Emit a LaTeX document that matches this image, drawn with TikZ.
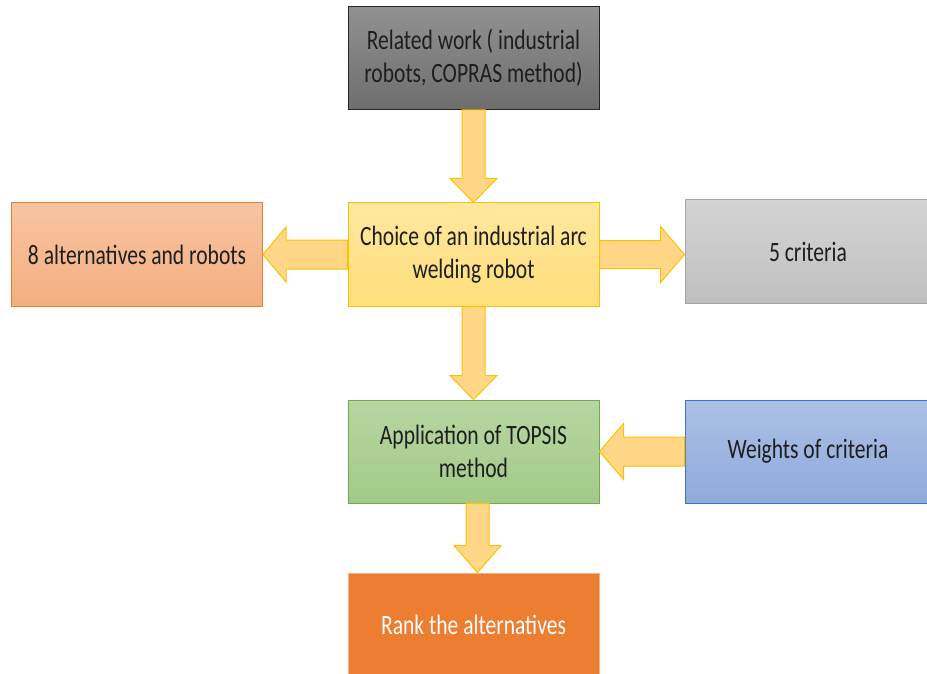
\documentclass[tikz,border=0pt]{standalone}
\usepackage{fontspec}
\setmainfont{Carlito}[FakeStretch=0.77]
\usetikzlibrary{calc}
\definecolor{myyellow}{RGB}{255,192,0}
\definecolor{myarrow}{RGB}{255,215,135}
\definecolor{myorange}{RGB}{237,125,49}
\definecolor{mygreen}{RGB}{112,173,71}
\definecolor{myblue}{RGB}{68,114,196}
\definecolor{mytext}{RGB}{30,30,30}

\begin{document}
\begin{tikzpicture}[x=1pt, y=1pt]
\tikzset{BoxStyle/.style =
    {draw, shape=rectangle, line width=1pt, minimum width=251pt, minimum height=103pt,
     inner sep=0pt, align=center, text=mytext, font=\fontsize{28}{33}\selectfont}
}
\tikzset{WideBoxStyle/.style = {BoxStyle, minimum width=246pt}}
\tikzset{ArrowStyle/.style = {draw=myyellow, fill=myarrow, line width=1pt, line join=miter}}
\useasboundingbox (0,0) rectangle (927,-674);

\node[BoxStyle, draw=black!85, top color=black!43, bottom color=black!57] (G-related) at (473.5,-58) {Related work ( industrial\\robots, COPRAS method)};
\node[BoxStyle, draw=myorange, top color=myorange!45, bottom color=myorange!62] (G-alts) at (137,-254.5) {8 alternatives and robots};
\node[BoxStyle, draw=myyellow, top color=myyellow!38, bottom color=myyellow!52] (G-choice) at (473.5,-254.5) {Choice of an industrial arc\\welding robot};
\node[WideBoxStyle, draw=black!35, top color=black!17, bottom color=black!25] (G-crit) at (808,-251.5) {5 criteria};
\node[BoxStyle, draw=mygreen, top color=mygreen!50, bottom color=mygreen!65] (G-topsis) at (473.5,-451.5) {Application of TOPSIS\\method};
\node[WideBoxStyle, draw=myblue, top color=myblue!45, bottom color=myblue!60] (G-weights) at (808,-451.5) {Weights of criteria};
\node[BoxStyle, draw=myorange!60, fill=myorange, text=white] (G-rank) at (473.5,-624.5) {Rank the alternatives};

% block arrows between the boxes
\draw[ArrowStyle] ($(G-related.south)+(-11.5,0)$) -- ($(G-choice.north)+(-11.5,24)$)
    -- ($(G-choice.north)+(-23.5,24)$) -- (G-choice.north) -- ($(G-choice.north)+(23.5,24)$)
    -- ($(G-choice.north)+(11.5,24)$) -- ($(G-related.south)+(11.5,0)$) -- cycle;
\draw[ArrowStyle] ($(G-choice.west)+(0,14.5)$) -- ($(G-alts.east)+(23,14.5)$)
    -- ($(G-alts.east)+(23,27.5)$) -- (G-alts.east) -- ($(G-alts.east)+(23,-27.5)$)
    -- ($(G-alts.east)+(23,-14.5)$) -- ($(G-choice.west)+(0,-14.5)$) -- cycle;
\draw[ArrowStyle] ($(G-choice.east)+(0,14)$) -- ($(G-crit.west |- G-choice.east)+(-24,14)$)
    -- ($(G-crit.west |- G-choice.east)+(-24,28)$) -- (G-crit.west |- G-choice.east)
    -- ($(G-crit.west |- G-choice.east)+(-24,-28)$)
    -- ($(G-crit.west |- G-choice.east)+(-24,-14)$) -- ($(G-choice.east)+(0,-14)$) -- cycle;
\draw[ArrowStyle] ($(G-choice.south)+(-11.5,0)$) -- ($(G-topsis.north)+(-11.5,24)$)
    -- ($(G-topsis.north)+(-23.5,24)$) -- (G-topsis.north) -- ($(G-topsis.north)+(23.5,24)$)
    -- ($(G-topsis.north)+(11.5,24)$) -- ($(G-choice.south)+(11.5,0)$) -- cycle;
\draw[ArrowStyle] ($(G-weights.west)+(0,14.5)$) -- ($(G-topsis.east)+(24,14.5)$)
    -- ($(G-topsis.east)+(24,28)$) -- (G-topsis.east) -- ($(G-topsis.east)+(24,-28)$)
    -- ($(G-topsis.east)+(24,-14.5)$) -- ($(G-weights.west)+(0,-14.5)$) -- cycle;
\draw[ArrowStyle] ($(G-topsis.south)+(-7.5,0)$) -- ($(G-rank.north)+(-7.5,27)$)
    -- ($(G-rank.north)+(-19.5,27)$) -- ($(G-rank.north)+(4,0)$) -- ($(G-rank.north)+(27.5,27)$)
    -- ($(G-rank.north)+(15.5,27)$) -- ($(G-topsis.south)+(15.5,0)$) -- cycle;
\end{tikzpicture}
\end{document}
